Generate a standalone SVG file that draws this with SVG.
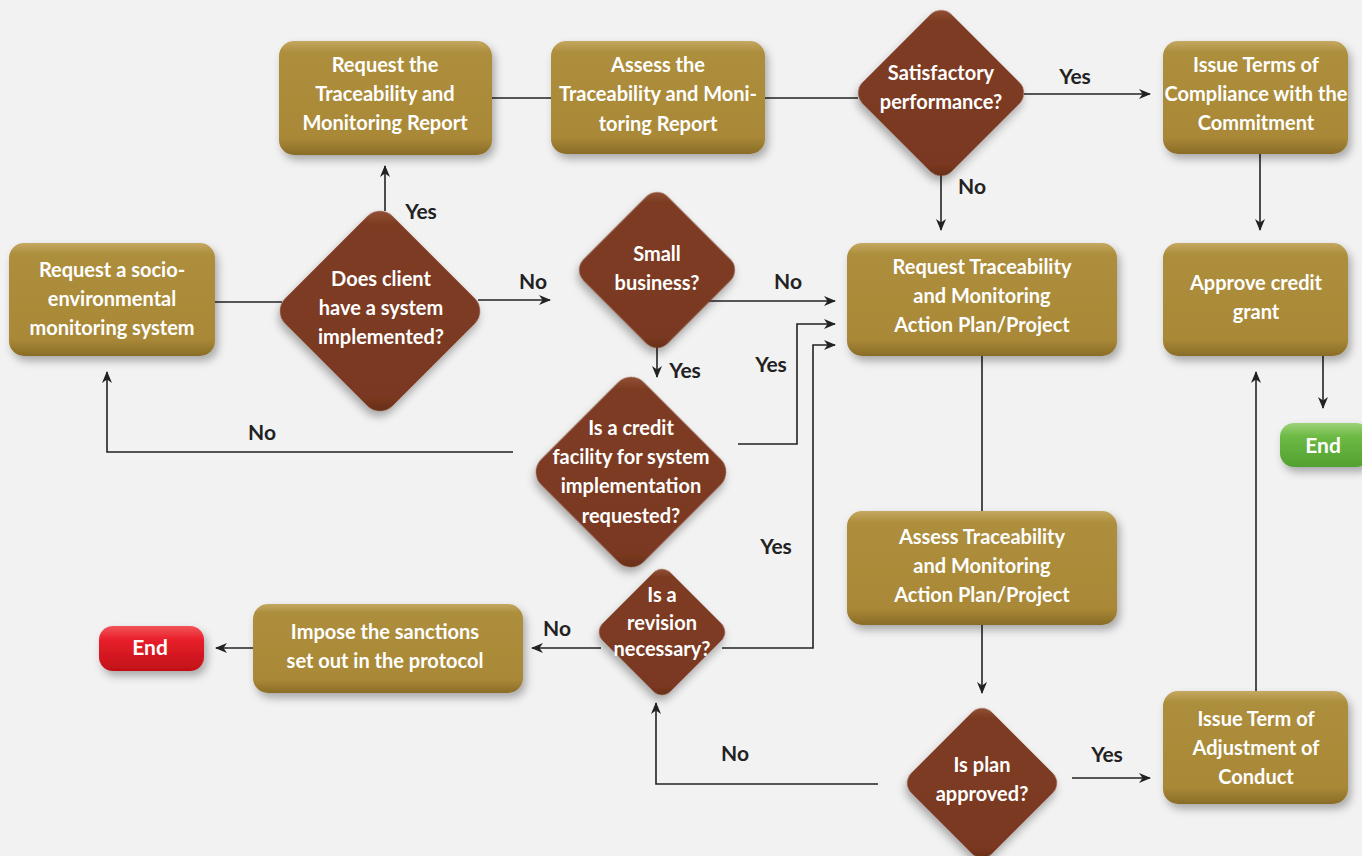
<svg xmlns="http://www.w3.org/2000/svg" width="1362" height="856" viewBox="0 0 1362 856">
<defs>
<linearGradient id="gold" x1="0" y1="0" x2="0" y2="1">
<stop offset="0" stop-color="#C4A862"/><stop offset="0.1" stop-color="#AD8E3C"/><stop offset="0.85" stop-color="#A98937"/><stop offset="1" stop-color="#8A6C27"/>
</linearGradient>
<linearGradient id="brown" x1="0" y1="0" x2="1" y2="1">
<stop offset="0" stop-color="#9A5A40"/><stop offset="0.1" stop-color="#7C3B20"/><stop offset="0.9" stop-color="#7A3920"/><stop offset="1" stop-color="#5E2812"/>
</linearGradient>
<linearGradient id="red" x1="0" y1="0" x2="0" y2="1">
<stop offset="0" stop-color="#F2545A"/><stop offset="0.3" stop-color="#E8202A"/><stop offset="1" stop-color="#C01018"/>
</linearGradient>
<linearGradient id="green" x1="0" y1="0" x2="0" y2="1">
<stop offset="0" stop-color="#9ED27A"/><stop offset="0.3" stop-color="#6DBA45"/><stop offset="1" stop-color="#52A030"/>
</linearGradient>
<filter id="sh" x="-20%" y="-20%" width="150%" height="150%">
<feDropShadow dx="3" dy="5" stdDeviation="4" flood-color="#000" flood-opacity="0.3"/>
</filter>
<marker id="arr" viewBox="0 0 12 10" refX="11" refY="5" markerWidth="12" markerHeight="10" markerUnits="userSpaceOnUse" orient="auto">
<path d="M0,0 L12,5 L0,10 L3.5,5 z" fill="#222"/>
</marker>
<style>
.box{fill:url(#gold);filter:url(#sh)}
.dia{fill:url(#brown);filter:url(#sh)}
.t{font-family:Lato,"Liberation Sans",sans-serif;font-weight:bold;font-size:20px;fill:#fff;text-anchor:middle}
.lb{font-family:Lato,"Liberation Sans",sans-serif;font-weight:bold;font-size:21px;fill:#222;text-anchor:middle}
.c{fill:none;stroke:#222;stroke-width:1.6}
.a{marker-end:url(#arr)}
</style>
</defs>
<rect width="1362" height="856" fill="#F2F2F2"/>

<g id="connectors">
<path class="c" d="M492,98 H551"/>
<path class="c" d="M765,98 H858"/>
<path class="c a" d="M1024,94 H1150"/>
<path class="c a" d="M941,175 V230"/>
<path class="c a" d="M1260,154 V230"/>
<path class="c a" d="M1323,356 V408"/>
<path class="c" d="M215,302 H282"/>
<path class="c a" d="M385,211 V166"/>
<path class="c a" d="M478,300 H550"/>
<path class="c a" d="M708,301 H835"/>
<path class="c a" d="M657,347 V377"/>
<path class="c a" d="M738,444 H797 V324 H835"/>
<path class="c a" d="M513,452 H107 V372"/>
<path class="c a" d="M722,648 H813 V345 H835"/>
<path class="c a" d="M601,648 H532"/>
<path class="c a" d="M253,648 H216"/>
<path class="c" d="M982,356 V511"/>
<path class="c a" d="M982,625 V693"/>
<path class="c a" d="M878,784 H656 V703"/>
<path class="c a" d="M1072,778 H1150"/>
<path class="c a" d="M1256,691 V372"/>
</g>

<g id="labels">
<text class="lb" x="1075" y="84">Yes</text>
<text class="lb" x="972" y="194">No</text>
<text class="lb" x="421" y="219">Yes</text>
<text class="lb" x="533" y="289">No</text>
<text class="lb" x="788" y="289">No</text>
<text class="lb" x="685" y="378">Yes</text>
<text class="lb" x="771" y="372">Yes</text>
<text class="lb" x="262" y="440">No</text>
<text class="lb" x="776" y="554">Yes</text>
<text class="lb" x="557" y="636">No</text>
<text class="lb" x="735" y="761">No</text>
<text class="lb" x="1107" y="762">Yes</text>
</g>

<g id="n_request_report">
<rect class="box" x="279" y="41" width="213" height="114" rx="15"/>
<text class="t" x="385" y="72">Request the</text>
<text class="t" x="385" y="101">Traceability and</text>
<text class="t" x="385" y="130">Monitoring Report</text>
</g>
<g id="n_assess_report">
<rect class="box" x="551" y="41" width="214" height="113" rx="15"/>
<text class="t" x="658" y="72">Assess the</text>
<text class="t" x="658" y="101">Traceability and Moni-</text>
<text class="t" x="658" y="131">toring Report</text>
</g>
<g id="n_satisfactory">
<rect class="dia" x="-63" y="-63" width="126" height="126" rx="15" transform="translate(941,93) rotate(45)"/>
<text class="t" x="941" y="80">Satisfactory</text>
<text class="t" x="941" y="109">performance?</text>
</g>
<g id="n_issue_terms">
<rect class="box" x="1163" y="41" width="185" height="113" rx="15"/>
<text class="t" x="1256" y="72">Issue Terms of</text>
<text class="t" x="1256" y="101">Compliance with the</text>
<text class="t" x="1256" y="130">Commitment</text>
</g>
<g id="n_request_system">
<rect class="box" x="9" y="243" width="206" height="113" rx="15"/>
<text class="t" x="112" y="277">Request a socio-</text>
<text class="t" x="112" y="306">environmental</text>
<text class="t" x="112" y="335">monitoring system</text>
</g>
<g id="n_has_system">
<rect class="dia" x="-76" y="-76" width="152" height="152" rx="18" transform="translate(380,311) rotate(45)"/>
<text class="t" x="381" y="286">Does client</text>
<text class="t" x="381" y="315">have a system</text>
<text class="t" x="381" y="344">implemented?</text>
</g>
<g id="n_small_business">
<rect class="dia" x="-59.5" y="-59.5" width="119" height="119" rx="15" transform="translate(657,270) rotate(45)"/>
<text class="t" x="657" y="261">Small</text>
<text class="t" x="657" y="290">business?</text>
</g>
<g id="n_request_plan">
<rect class="box" x="847" y="243" width="270" height="113" rx="15"/>
<text class="t" x="982" y="274">Request Traceability</text>
<text class="t" x="982" y="303">and Monitoring</text>
<text class="t" x="982" y="332">Action Plan/Project</text>
</g>
<g id="n_approve_credit">
<rect class="box" x="1163" y="243" width="185" height="113" rx="15"/>
<text class="t" x="1256" y="290">Approve credit</text>
<text class="t" x="1256" y="319">grant</text>
</g>
<g id="n_end_green">
<rect x="1280" y="423" width="90" height="44" rx="14" fill="url(#green)" filter="url(#sh)"/>
<text class="t" x="1323" y="453" style="font-size:21px">End</text>
</g>
<g id="n_credit_facility">
<rect class="dia" x="-72.5" y="-72.5" width="145" height="145" rx="18" transform="translate(631,472) rotate(45)"/>
<text class="t" x="631" y="435">Is a credit</text>
<text class="t" x="631" y="464">facility for system</text>
<text class="t" x="631" y="493">implementation</text>
<text class="t" x="631" y="523">requested?</text>
</g>
<g id="n_assess_plan">
<rect class="box" x="847" y="511" width="270" height="114" rx="15"/>
<text class="t" x="982" y="544">Assess Traceability</text>
<text class="t" x="982" y="573">and Monitoring</text>
<text class="t" x="982" y="602">Action Plan/Project</text>
</g>
<g id="n_revision">
<rect class="dia" x="-48" y="-48" width="96" height="96" rx="12" transform="translate(662,632) rotate(45)"/>
<text class="t" x="662" y="602">Is a</text>
<text class="t" x="662" y="630">revision</text>
<text class="t" x="662" y="656">necessary?</text>
</g>
<g id="n_sanctions">
<rect class="box" x="253" y="604" width="270" height="89" rx="15"/>
<text class="t" x="385" y="639">Impose the sanctions</text>
<text class="t" x="385" y="668">set out in the protocol</text>
</g>
<g id="n_end_red">
<rect x="99" y="626" width="105" height="45" rx="14" fill="url(#red)" filter="url(#sh)"/>
<text class="t" x="150" y="655" style="font-size:21px">End</text>
</g>
<g id="n_plan_approved">
<rect class="dia" x="-57" y="-57" width="114" height="114" rx="14" transform="translate(982,783) rotate(45)"/>
<text class="t" x="982" y="772">Is plan</text>
<text class="t" x="982" y="801">approved?</text>
</g>
<g id="n_adjustment">
<rect class="box" x="1163" y="691" width="185" height="113" rx="15"/>
<text class="t" x="1256" y="726">Issue Term of</text>
<text class="t" x="1256" y="755">Adjustment of</text>
<text class="t" x="1256" y="784">Conduct</text>
</g>
</svg>
